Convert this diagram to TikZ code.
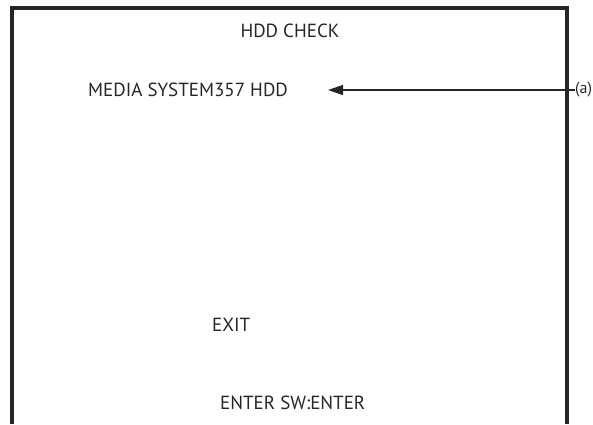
\documentclass[tikz,border=0pt]{standalone}
\usepackage{fontspec}
\setmainfont{PT Sans}
\usetikzlibrary{arrows.meta}
\begin{document}
\begin{tikzpicture}[x=1pt,y=-1pt,
  lbl/.style={inner sep=0pt,font=\fontsize{19}{21}\selectfont,text=black!85},
  small/.style={inner sep=0pt,font=\fontsize{16}{18}\selectfont,text=black!85},
  frame/.style={line width=3.8pt,draw=black!85},
  pointer/.style={line width=1.4pt,draw=black!85,-{Triangle[length=15pt,width=10pt]}}]
\useasboundingbox (0,0) rectangle (593,424);
\draw[frame] (12,424) -- (12,8) -- (567,8) -- (567,424);
\node[lbl] (title) at (290,31) {HDD CHECK};
\node[lbl,anchor=west] (media) at (88,90) {MEDIA SYSTEM357 HDD};
\node[lbl,anchor=west] (exit) at (212,325) {EXIT};
\node[lbl,anchor=west] (enter) at (220,403) {ENTER SW:ENTER};
\node[small,anchor=west] (a) at (575,90) {(a)};
\coordinate (tip) at (328,90);
\draw[pointer] (a.west) -- (tip);
\end{tikzpicture}
\end{document}
